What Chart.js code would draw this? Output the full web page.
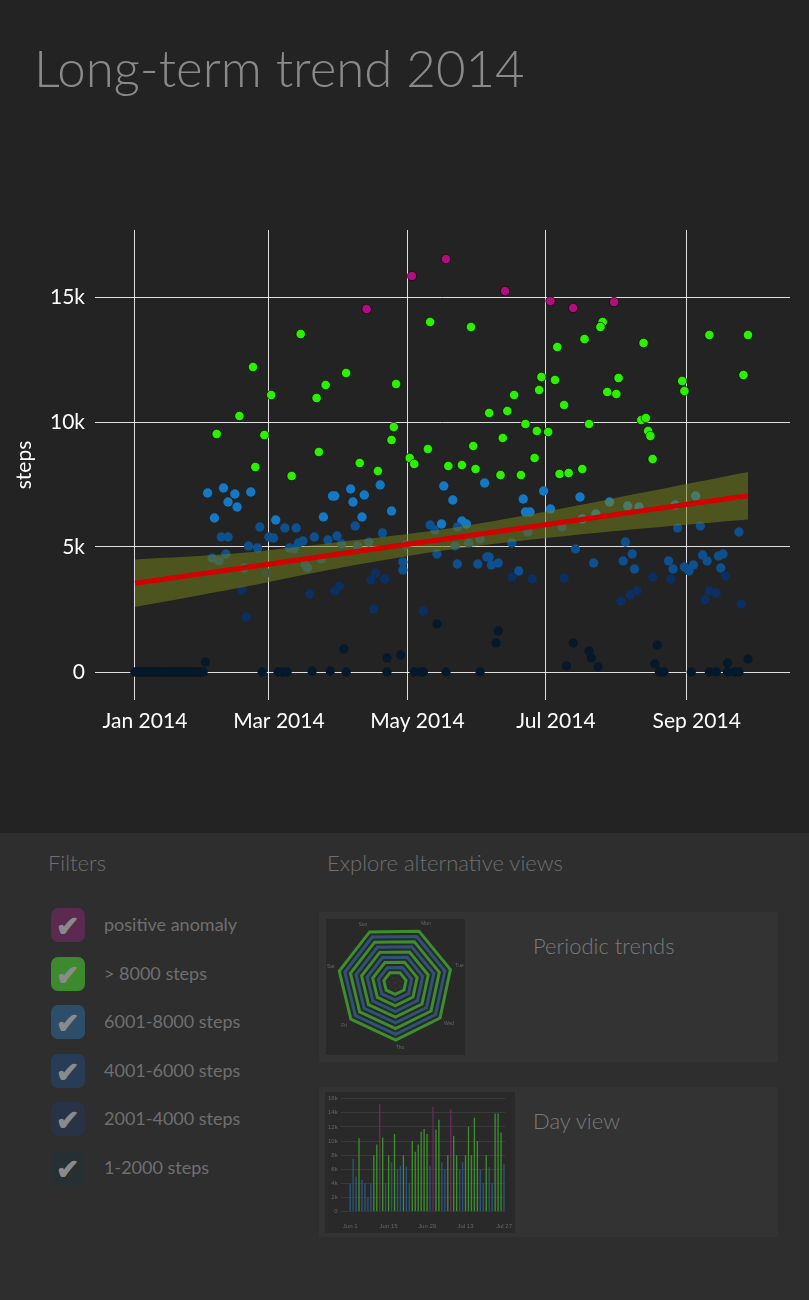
<!DOCTYPE html>
<html>
<head>
<meta charset="utf-8">
<script src="https://cdn.jsdelivr.net/npm/chart.js@4.4.1/dist/chart.umd.min.js"></script>
<style>
  body { margin: 0; width: 809px; height: 1300px; background: #232323; font-family: Lato, "Open Sans", sans-serif; overflow: hidden; }
  #title { position: absolute; left: 34px; top: 37px; font-size: 51px; font-weight: 300; color: #8a8a8a; }
  #main { position: absolute; left: 0; top: 200px; width: 809px; height: 560px; }
  #lower { position: absolute; left: 0; top: 833px; width: 809px; height: 467px; background: #2e2e2e; }
  .head { position: absolute; font-size: 22px; font-weight: 300; color: #6f6f6f; }
  .filter { position: absolute; left: 51px; height: 34px; }
  .box { position: absolute; left: 0; top: 0; width: 34px; height: 34px; border-radius: 7px; }
  .box span { position: absolute; left: 5px; top: 0px; font-size: 28px; color: #8a8a8a; font-weight: bold; }
  .filter .lbl { position: absolute; left: 53px; top: 5px; white-space: nowrap; font-size: 18px; color: #6f6f6f; }
  .card { position: absolute; left: 319px; width: 459px; height: 150px; background: #333; }
  .thumb { position: absolute; background: #292929; }
  .card .ct { position: absolute; left: 214px; font-size: 22px; font-weight: 300; color: #7a7a7a; }
</style>
</head>
<body>
<div id="title">Long-term trend 2014</div>
<div id="main"><canvas id="trendChart"></canvas></div>
<div id="lower">
  <div class="head" style="left:48px;top:16px">Filters</div>
  <div class="head" style="left:327px;top:16px">Explore alternative views</div>
  <div id="filters"></div>
  <div class="card" style="top:79px">
    <div class="thumb" style="left:7px;top:7px;width:139px;height:136px"><canvas id="radarThumb"></canvas></div>
    <div class="ct" style="top:20px">Periodic trends</div>
  </div>
  <div class="card" style="top:254px">
    <div class="thumb" style="left:6px;top:5px;width:190px;height:141px"><canvas id="barThumb"></canvas></div>
    <div class="ct" style="top:20px">Day view</div>
  </div>
</div>
<script>
// day of year (0 = Jan 1) and steps
const zeroDays = [0,1,2,3,4,5,6,7,8,9,10,11,12,13,14,15,16,17,18,19,20,21,22,23,24,25,26,27,28,29,30,
  56,63,65,67,93,111,123,126,127,137,152,231,233,245,253,256,261,264,266];

const days = [
  73,52,84,60,80,46,36,57,81,53,69,
  32,39,44,51,41,45,35,62,55,66,71,83,87,38,41,59,61,79,85,89,
  50,54,68,70,72,74,34,37,40,33,48,58,75,76,82,
  47,49,77,88,90,31,78,86,
  137,122,163,102,
  130,148,93,115,179,178,167,156,164,172,177,114,113,162,149,129,121,123,99,107,138,144,150,161,170,176,
  95,101,96,108,88,100,97,113,109,136,140,154,171,172,174,180,130,135,144,146,142,132,173,
  91,98,103,119,141,147,152,166,133,118,118,142,151,155,156,157,160,169,166,175,
  106,104,110,105,127,133,92,111,117,160,159,
  183,193,211,
  206,205,198,186,224,253,270,185,213,208,212,241,242,268,189,200,223,225,226,227,182,228,187,191,197,
  196,183,209,217,222,247,238,197,203,188,239,249,266,
  216,194,219,202,215,220,235,237,228,236,242,244,246,250,252,257,259,258,260,189,
  214,218,221,253,256,251,267,
  193,200,201,190,204,230,229,261,270
];
const steps = [
  13520,12200,11480,11080,10960,10240,9520,9480,8800,8200,7840,
  7160,7360,7120,7200,6800,6600,6160,6080,5800,5760,5760,6200,7040,5400,5400,5400,5360,5400,5280,5440,
  5040,4960,4960,4920,5160,5240,4560,4440,4720,4000,4160,3960,4280,4160,4520,
  3280,2200,3120,3240,3440,400,40,40,
  16520,15840,15240,14520,
  14000,13800,11960,11520,11800,11280,11080,10360,10440,9920,9640,9800,9280,9360,9040,8920,8560,8320,8360,8040,8240,8280,8120,7880,7880,8560,
  7320,7080,6800,7480,7040,6200,5840,6440,5560,7440,6880,7560,6920,6400,6400,7240,5880,5920,6040,5920,5800,5680,5600,
  5120,5040,5200,5080,5040,5160,5320,5160,4720,4400,4080,4320,4320,4600,4600,4280,4360,4040,3800,3720,
  3960,3680,3720,2520,2440,1920,920,560,680,1640,1160,
  14840,14560,14800,
  14000,13800,13320,13000,13160,13480,13480,11680,11760,11200,11120,11640,11240,11880,10680,9920,10080,10160,9640,9440,9600,8520,7920,7960,8120,
  7000,6520,6800,6640,6600,7040,6680,6120,6320,5800,5760,5840,5600,
  5200,4920,4720,4360,4440,4120,4440,4120,3800,3720,4200,4040,4280,4680,4440,4640,4720,4160,3840,3760,
  2840,3080,3240,3240,3160,2880,2720,
  1160,840,560,240,200,1080,320,360,520
];

const bandDays = [0, 45, 90, 135, 180, 225, 270];
const bandUpper = [4500, 4750, 5200, 5700, 6400, 7200, 8000];
const bandLower = [2600, 3350, 4160, 4850, 5350, 5750, 6100];
const trendSteps = [3550, 4130, 4720, 5300, 5880, 6470, 7050];

const xTickDays = [0, 59, 120, 181, 243];
const xTickLabels = ['Jan 2014', 'Mar 2014', 'May 2014', 'Jul 2014', 'Sep 2014'];
const yTickValues = [0, 5000, 10000, 15000];
const yTickLabels = ['0', '5k', '10k', '15k'];

function colorFor(v) {
  if (v > 14300) return '#b0107c';
  if (v >= 7800) return '#2cf000';
  if (v > 5900) return '#1479c4';
  if (v > 4000) return '#0e4f8e';
  if (v > 2000) return '#0b2f60';
  return '#06192a';
}

const allDays = zeroDays.concat(days);
const allSteps = zeroDays.map(() => 0).concat(steps);
const points = allDays.map((d, i) => ({ x: d, y: allSteps[i] }));
const pointColors = allSteps.map(colorFor);
const pointBorders = allSteps.map((v) => (v >= 7800 ? 'rgba(0,0,0,0.6)' : 'rgba(0,0,0,0)'));

const white = '#ffffff';
const tickFont = { family: 'Lato, sans-serif', size: 21 };

new Chart(document.getElementById('trendChart'), {
  type: 'scatter',
  data: {
    datasets: [
      {
        type: 'line',
        data: bandDays.map((d, i) => ({ x: d, y: trendSteps[i] })),
        borderColor: '#d20000',
        borderWidth: 5,
        pointRadius: 0,
        order: 0,
      },
      {
        type: 'line',
        data: bandDays.map((d, i) => ({ x: d, y: bandUpper[i] })),
        borderWidth: 0,
        pointRadius: 0,
        tension: 0.3,
        fill: '+1',
        backgroundColor: 'rgba(115,125,25,0.55)',
        order: 1,
      },
      {
        type: 'line',
        data: bandDays.map((d, i) => ({ x: d, y: bandLower[i] })),
        borderWidth: 0,
        pointRadius: 0,
        tension: 0.3,
        fill: false,
        order: 1,
      },
      {
        data: points,
        pointRadius: 4.7,
        pointBackgroundColor: pointColors,
        pointBorderColor: pointBorders,
        pointBorderWidth: 1,
        order: 2,
      },
    ],
  },
  options: {
    responsive: true,
    maintainAspectRatio: false,
    animation: false,
    layout: { padding: { top: 30, right: 19 } },
    plugins: { legend: { display: false }, tooltip: { enabled: false } },
    scales: {
      x: {
        type: 'linear',
        min: -17.6,
        max: 288.5,
        afterBuildTicks: (s) => { s.ticks = xTickDays.map((v) => ({ value: v })); },
        afterFit: (s) => { s.height = 60; },
        ticks: { color: white, font: tickFont, padding: 9, maxRotation: 0, labelOffset: 10,
          callback: (v) => xTickLabels[xTickDays.indexOf(v)] },
        grid: { color: 'rgba(255,255,255,0.85)', drawTicks: false },
        border: { display: false },
      },
      y: {
        min: -1120,
        max: 17680,
        afterBuildTicks: (s) => { s.ticks = yTickValues.map((v) => ({ value: v })); },
        afterFit: (s) => { s.width = 95; },
        ticks: { color: white, font: tickFont, padding: 10,
          callback: (v) => yTickLabels[yTickValues.indexOf(v)] },
        grid: { color: 'rgba(255,255,255,0.85)', drawTicks: false },
        border: { display: false },
        title: { display: true, text: 'steps', color: white, font: tickFont, padding: { top: 12 } },
      },
    },
  },
});

// filters legend
const filterLabels = ['positive anomaly', '> 8000 steps', '6001-8000 steps', '4001-6000 steps', '2001-4000 steps', '1-2000 steps'];
const filterColors = ['#5a2a50', '#3d8a2e', '#2d4e68', '#273d57', '#283347', '#262f32'];
const filtersEl = document.getElementById('filters');
filterLabels.forEach((t, i) => {
  const f = document.createElement('div');
  f.className = 'filter';
  f.style.top = (75 + i * 48.5) + 'px';
  f.innerHTML = '<div class="box" style="background:' + filterColors[i] + '"><span>&#10004;</span></div><div class="lbl">' + t + '</div>';
  filtersEl.appendChild(f);
});

// periodic trends thumbnail
const weekdays = ['Mon', 'Tue', 'Wed', 'Thu', 'Fri', 'Sat', 'Sun'];
const ringRadii = [10, 9, 8, 7, 6, 5, 4, 3, 2];
const ringColors = ['#3c8f2c', '#2d5478', '#3c8f2c', '#2d5478', '#3c8f2c', '#2d5478', '#3c8f2c', '#2d5478', '#3c8f2c'];
new Chart(document.getElementById('radarThumb'), {
  type: 'radar',
  data: {
    labels: weekdays,
    datasets: ringRadii.map((r, i) => ({
      data: weekdays.map(() => r),
      borderColor: ringColors[i],
      borderWidth: 3,
      pointRadius: 0,
      fill: false,
    })),
  },
  options: {
    responsive: true, maintainAspectRatio: false, animation: false,
    plugins: { legend: { display: false }, tooltip: { enabled: false } },
    scales: { r: { min: 0, max: 10, startAngle: 25, ticks: { display: false },
      grid: { color: '#333' }, angleLines: { color: '#333' },
      pointLabels: { color: '#666', font: { size: 5 } } } },
  },
});

// day view thumbnail
const dayLabels = ['Jun 1', 'Jun 15', 'Jun 29', 'Jul 13', 'Jul 27'];
const dayValues = [4000,7500,5000,10400,4500,4000,2000,4000,8000,9500,15200,10500,4000,8000,7000,11000,6000,6500,8000,6400,
  4000,10000,8500,9500,11300,11700,11000,6500,14800,11600,13000,7000,6000,8000,14500,10700,8000,6000,7000,8000,
  12000,8000,13300,10000,6000,4000,8000,6300,4000,13900,13900,11200,6800];
new Chart(document.getElementById('barThumb'), {
  type: 'bar',
  data: {
    labels: dayValues.map((v, i) => (i % 13 === 0 ? dayLabels[i / 13] : '')),
    datasets: [{
      data: dayValues,
      backgroundColor: dayValues.map((v) => (v > 14300 ? '#6a2a5e' : v >= 7800 ? '#3c8f2c' : '#2d5478')),
      categoryPercentage: 0.9, barPercentage: 0.5,
    }],
  },
  options: {
    responsive: true, maintainAspectRatio: false, animation: false,
    plugins: { legend: { display: false }, tooltip: { enabled: false } },
    scales: {
      x: { grid: { display: false }, ticks: { color: '#666', font: { size: 6 }, autoSkip: false, maxRotation: 0 } },
      y: { min: 0, max: 16000, ticks: { stepSize: 2000, color: '#666', font: { size: 6 },
        callback: (v) => (v === 0 ? '0' : v / 1000 + 'k') }, grid: { color: '#3a3a3a' }, border: { display: false } },
    },
  },
});
</script>
</body>
</html>
